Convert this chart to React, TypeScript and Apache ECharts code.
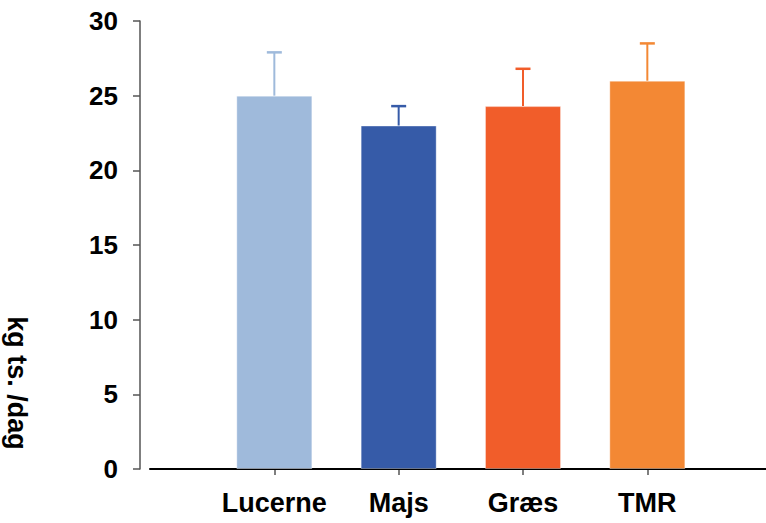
import React, { useEffect, useRef } from "react";
import * as echarts from "echarts";

const categories = ["Lucerne", "Majs", "Græs", "TMR"];
const means = [25, 23, 24.3, 26];
const errorTops = [27.9, 24.3, 26.8, 28.5];
const barColors = ["#9FBADB", "#365BA8", "#F15D2A", "#F38834"];
const yTicks = { min: 0, max: 30, interval: 5 };
const yAxisTitle = "kg ts. /dag";

export default function App() {
  const ref = useRef<HTMLDivElement>(null);
  useEffect(() => {
    if (!ref.current) return;
    document.documentElement.style.overflow = "hidden";
    document.body.style.margin = "0";
    document.body.style.overflow = "hidden";
    const chart = echarts.init(ref.current, null, { renderer: "svg", width: 766, height: 523 });
    const axisCats = ["", ...categories, "", ""];
    const barData = axisCats.map((c, i) => {
      const k = i - 1;
      if (k < 0 || k >= categories.length) return "-";
      return { value: means[k], itemStyle: { color: barColors[k] } };
    });
    const errData = categories.map((c, i) => [i + 1, means[i], errorTops[i]]);
    chart.setOption({
      animation: false,
      grid: {
        left: 150,
        width: 746,
        top: 21,
        bottom: 54,
        containLabel: false,
        outerBoundsMode: "none",
      },
      xAxis: {
        type: "category",
        data: axisCats,
        boundaryGap: false,
        axisLine: { show: true, lineStyle: { color: "#000", width: 2 } },
        axisTick: {
          show: true,
          length: 6,
          interval: (index: number, value: string) => value !== "",
          lineStyle: { color: "#555", width: 1.5 },
        },
        axisLabel: {
          interval: 0,
          margin: 20,
          color: "#000",
          fontSize: 27,
          fontWeight: "bold",
          fontFamily: "Liberation Sans, Arial, sans-serif",
        },
        splitLine: { show: false },
      },
      yAxis: {
        type: "value",
        min: yTicks.min,
        max: yTicks.max,
        interval: yTicks.interval,
        offset: 10,
        axisLine: { show: true, lineStyle: { color: "#555", width: 1.5 } },
        axisTick: { show: true, length: 7, lineStyle: { color: "#555", width: 1.5 } },
        axisLabel: {
          margin: 22,
          color: "#000",
          fontSize: 26,
          fontWeight: "bold",
          fontFamily: "Liberation Sans, Arial, sans-serif",
        },
        splitLine: { show: false },
      },
      graphic: [
        {
          type: "line",
          shape: { x1: 150, y1: 469, x2: 766, y2: 469 },
          style: { stroke: "#000", lineWidth: 2 },
          z: 1,
        },
        {
          type: "text",
          x: 17,
          y: 383,
          rotation: -Math.PI / 2,
          style: {
            text: yAxisTitle,
            fill: "#000",
            fontSize: 27,
            fontWeight: "bold",
            fontFamily: "Liberation Sans, Arial, sans-serif",
            align: "center",
            verticalAlign: "middle",
          },
        },
      ],
      series: [
        {
          type: "bar",
          data: barData,
          barWidth: 76,
          itemStyle: { borderColor: "rgba(255,255,255,0.35)", borderWidth: 1 },
        },
        {
          type: "custom",
          data: errData,
          z: 3,
          renderItem: (params: any, api: any) => {
            const idx = api.value(0);
            const base = api.coord([idx, api.value(1)]);
            const top = api.coord([idx, api.value(2)]);
            const color = barColors[params.dataIndex];
            const half = 7.5;
            return {
              type: "group",
              children: [
                {
                  type: "line",
                  shape: { x1: base[0], y1: base[1], x2: top[0], y2: top[1] },
                  style: { stroke: color, lineWidth: 2 },
                },
                {
                  type: "line",
                  shape: { x1: top[0] - half, y1: top[1], x2: top[0] + half, y2: top[1] },
                  style: { stroke: color, lineWidth: 2.5 },
                },
              ],
            };
          },
        },
      ],
    });
    return () => chart.dispose();
  }, []);
  return (
    <div
      ref={ref}
      style={{ position: "fixed", left: 0, top: 0, width: 766, height: 523, background: "#fff" }}
    />
  );
}
